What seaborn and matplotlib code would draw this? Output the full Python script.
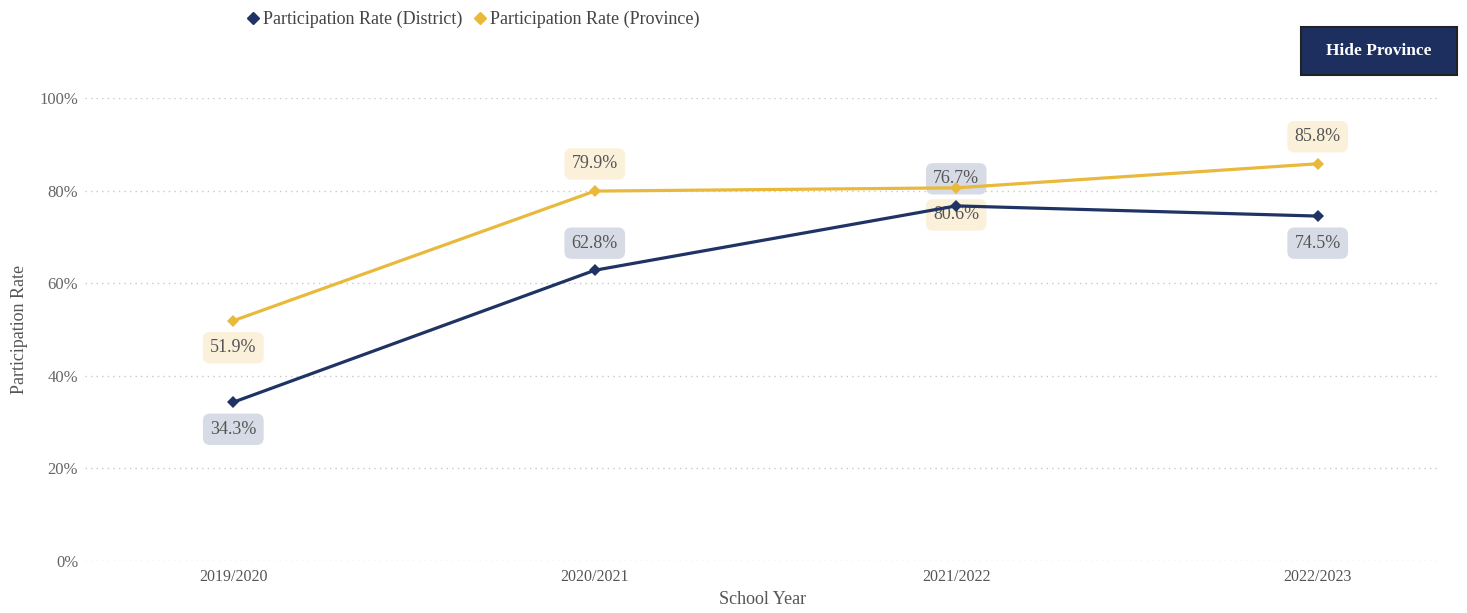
import matplotlib
matplotlib.use("Agg")
import matplotlib.pyplot as plt
from matplotlib.patches import FancyBboxPatch
from matplotlib.lines import Line2D
import seaborn as sns
import pandas as pd

years = ["2019/2020", "2020/2021", "2021/2022", "2022/2023"]
district = [34.3, 62.8, 76.7, 74.5]
province = [51.9, 79.9, 80.6, 85.8]
# label placement for each point: +1 above, -1 below
district_side = [-1, 1, 1, -1]
province_side = [-1, 1, -1, 1]
yticks = [0, 20, 40, 60, 80, 100]

NAVY = "#1f3465"
GOLD = "#e9b93c"
NAVY_BG = "#d3d8e3"
GOLD_BG = "#fbefd6"

sns.set_theme(style="white")
plt.rcParams["font.family"] = ["Liberation Serif", "DejaVu Serif"]

df = pd.DataFrame({
    "School Year": years * 2,
    "Participation Rate": district + province,
    "Series": ["Participation Rate (District)"] * 4 + ["Participation Rate (Province)"] * 4,
})

fig = plt.figure(figsize=(14.67, 6.13), dpi=100)
ax = fig.add_axes([0.058, 0.0848, 0.924, 0.7553])

sns.lineplot(data=df, x="School Year", y="Participation Rate", hue="Series",
             palette=[NAVY, GOLD], marker="D", markersize=6, markeredgewidth=0,
             linewidth=2.3, ax=ax, legend=False, sort=False, zorder=3)

ax.set_ylim(0, 100)
ax.set_xlim(-0.41, 3.34)
ax.set_yticks(yticks)
ax.set_yticklabels([f"{v}%" for v in yticks], color="#666666", fontsize=12)
ax.tick_params(axis="x", colors="#555555", labelsize=11.5, pad=6)
ax.tick_params(axis="y", pad=5, length=0)
ax.tick_params(axis="x", length=0)
ax.set_xlabel("School Year", fontsize=13, color="#555555", labelpad=4)
ax.set_ylabel("Participation Rate", fontsize=13, color="#555555", labelpad=8)
ax.grid(axis="y", linestyle=(0, (1, 3)), color="#c8c8c8", linewidth=1)
ax.set_axisbelow(True)
for s in ax.spines.values():
    s.set_visible(False)

def label(vals, sides, bg):
    for i, (v, side) in enumerate(zip(vals, sides)):
        ax.annotate(f"{v}%", (i, v), xytext=(0, 19.5 * side), textcoords="offset points",
                    ha="center", va="center", fontsize=13, color="#555555",
                    bbox=dict(boxstyle="round,pad=0.4,rounding_size=0.4",
                              fc=bg, ec="none", alpha=0.9), zorder=2)

label(district, district_side, NAVY_BG)
label(province, province_side, GOLD_BG)

handles = [Line2D([], [], marker="D", color=NAVY, linestyle="none", markersize=6),
           Line2D([], [], marker="D", color=GOLD, linestyle="none", markersize=6)]
fig.legend(handles, ["Participation Rate (District)", "Participation Rate (Province)"],
           loc="center left", bbox_to_anchor=(0.155, 0.968), ncol=2, frameon=False,
           handletextpad=0.05, columnspacing=0.5, handlelength=1.0,
           prop={"size": 13}, labelcolor="#444444")

btn = FancyBboxPatch((1301 / 1467, 1 - 75 / 613), 156 / 1467, 48 / 613,
                     boxstyle="square,pad=0", transform=fig.transFigure,
                     fc="#1c2f5e", ec="#222222", lw=1.5)
fig.patches.append(btn)
fig.text(1379 / 1467, 1 - 51 / 613, "Hide Province", ha="center", va="center",
         color="white", fontsize=12.5, fontweight="bold")

fig.savefig("out.png", dpi=100)
